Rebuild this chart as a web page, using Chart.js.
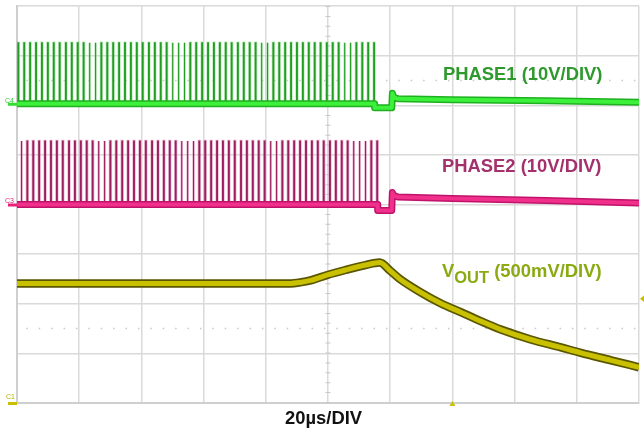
<!DOCTYPE html>
<html>
<head>
<meta charset="utf-8">
<script src="https://cdn.jsdelivr.net/npm/chart.js@4/dist/chart.umd.min.js"></script>
<style>
  html, body { margin: 0; padding: 0; background: #fff; }
  #wrap { position: relative; width: 644px; height: 429px; }
  .lbl { position: absolute; font-family: "Liberation Sans", Arial, sans-serif; font-weight: bold; font-size: 18.4px; white-space: nowrap; line-height: 1; }
  .ch { position: absolute; font-family: "Liberation Sans", Arial, sans-serif; font-size: 7px; line-height: 1; }
  .sub { font-size: 16.5px; position: relative; top: 6px; }
</style>
</head>
<body>
<div id="wrap">
  <canvas id="c" width="644" height="429"></canvas>
  <div class="lbl" style="left:443px; top:65px; color:#2e9a2e;">PHASE1 (10V/DIV)</div>
  <div class="lbl" style="left:442px; top:157px; color:#a3326c;">PHASE2 (10V/DIV)</div>
  <div class="lbl" style="left:442px; top:262px; color:#8aaa12;">V<span class="sub">OUT</span> (500mV/DIV)</div>
  <div class="lbl" style="left:285px; top:409px; color:#111;">20µs/DIV</div>
  <div class="ch" style="left:5px; top:97px; color:#33cc33;">C4</div>
  <div class="ch" style="left:5px; top:197px; color:#e0207a;">C3</div>
  <div class="ch" style="left:6px; top:393px; color:#b8b000;">C1</div>
</div>
<script>
// Time axis: 10 divisions x 20 µs; vertical axis in screen divisions (8 divisions)
const timeDivisions = [0, 20, 40, 60, 80, 100, 120, 140, 160, 180, 200];

// PHASE1 switch-node pulse start times (µs)
const phase1PulseTimes = [0.3, 2.2, 4.1, 6.0, 7.9, 9.8, 11.7, 13.6, 15.6, 17.5, 19.4, 21.3, 23.2, 25.1, 27.0, 28.9, 30.8, 32.7, 34.6, 36.5, 38.4, 40.3, 42.3, 44.2, 46.1, 48.0, 49.9, 51.8, 53.7, 55.6, 57.5, 59.4, 61.3, 63.2, 65.1, 67.0, 68.9, 70.9, 72.8, 74.7, 76.6, 78.5, 80.4, 82.3, 84.2, 86.1, 88.0, 89.9, 91.8, 93.7, 95.6, 97.5, 99.5, 101.4, 103.3, 105.2, 107.1, 109.0, 110.9, 112.8, 114.7];
// PHASE2 pulse start times (µs)
const phase2PulseTimes = [1.3, 3.2, 5.1, 7.0, 8.9, 10.8, 12.7, 14.6, 16.6, 18.5, 20.4, 22.3, 24.2, 26.1, 28.0, 29.9, 31.8, 33.7, 35.6, 37.5, 39.4, 41.3, 43.3, 45.2, 47.1, 49.0, 50.9, 52.8, 54.7, 56.6, 58.5, 60.4, 62.3, 64.2, 66.1, 68.0, 69.9, 71.9, 73.8, 75.7, 77.6, 79.5, 81.4, 83.3, 85.2, 87.1, 89.0, 90.9, 92.8, 94.7, 96.6, 98.5, 100.5, 102.4, 104.3, 106.2, 108.1, 110.0, 111.9, 113.8, 115.7];
const pulseWidth = 0.25;       // µs
const phase1Peak = 3.26;       // div
const phase2Peak = 1.28;       // div

// PHASE1 baseline trace (time µs, level div)
const phase1BaseT = [0, 114.9, 115.0, 120.5, 120.7, 121.2, 122.5, 140, 170, 200];
const phase1BaseY = [2.03, 2.03, 1.95, 1.95, 2.24, 2.16, 2.13, 2.11, 2.09, 2.06];
// PHASE2 baseline trace
const phase2BaseT = [0, 115.9, 116.0, 120.5, 120.7, 121.2, 122.5, 140, 170, 200];
const phase2BaseY = [0.00, 0.00, -0.12, -0.12, 0.24, 0.18, 0.15, 0.12, 0.08, 0.03];

// VOUT trace
const voutT = [0, 60, 88, 91, 94.4, 99.8, 105.6, 112.1, 116.6, 120.1, 123.3, 129.8, 136.2, 142.7, 149.1, 155.6, 165.2, 174.9, 181.3, 191.0, 200];
const voutY = [-1.59, -1.59, -1.59, -1.57, -1.53, -1.42, -1.32, -1.22, -1.17, -1.34, -1.51, -1.77, -1.99, -2.17, -2.35, -2.52, -2.72, -2.88, -2.99, -3.14, -3.28];

// Cursor reference levels (div)
const cursorLevels = [2.5, -2.5];

function pairs(xs, ys) { return xs.map((x, i) => ({ x: x, y: ys[i] })); }
function pulses(times, base, peak) {
  const pts = [];
  times.forEach(t => {
    pts.push({ x: t, y: base }, { x: t, y: peak }, { x: t + pulseWidth, y: peak }, { x: t + pulseWidth, y: base });
  });
  return pts;
}

const line = (data, color, width, extra) => Object.assign({
  data: data, borderColor: color, borderWidth: width, pointRadius: 0,
  fill: false, tension: 0, borderCapStyle: 'butt', borderJoinStyle: 'round'
}, extra || {});

// listed bottom-to-top
const layers = [
  ...cursorLevels.map(l => line([{ x: 3, y: l }, { x: 200, y: l }], '#c8c8c8', 1.5, { borderDash: [1.5, 10.9] })),
  line([{ x: 100, y: -4 }, { x: 100, y: 4 }], '#c8c8c8', 5, { borderDash: [1, 8.9] }),
  // PHASE1
  line(pulses(phase1PulseTimes, phase1BaseY[0], phase1Peak), 'rgba(110,215,110,0.45)', 2.6, { borderJoinStyle: 'miter' }),
  line(pulses(phase1PulseTimes, phase1BaseY[0], phase1Peak), '#239c23', 1.1, { borderJoinStyle: 'miter' }),
  line(pairs(phase1BaseT, phase1BaseY), '#1fb01f', 7),
  line(pairs(phase1BaseT, phase1BaseY), '#3cf03c', 4),
  // PHASE2
  line(pulses(phase2PulseTimes, phase2BaseY[0], phase2Peak), 'rgba(210,80,150,0.40)', 2.6, { borderJoinStyle: 'miter' }),
  line(pulses(phase2PulseTimes, phase2BaseY[0], phase2Peak), '#9a1f5c', 1.1, { borderJoinStyle: 'miter' }),
  line(pairs(phase2BaseT, phase2BaseY), '#c0126a', 7),
  line(pairs(phase2BaseT, phase2BaseY), '#f0308a', 4),
  // VOUT
  line(pairs(voutT, voutY), '#5b5700', 8.5, { cubicInterpolationMode: 'monotone' }),
  line(pairs(voutT, voutY), '#c9c000', 5, { cubicInterpolationMode: 'monotone' })
];
// Chart.js draws lower "order" on top
const datasets = layers.map((d, i) => Object.assign(d, { order: layers.length - i }));

const markerPlugin = {
  id: 'markers',
  afterDatasetsDraw(chart) {
    const ctx = chart.ctx, a = chart.chartArea;
    const ys = chart.scales.y, xs = chart.scales.x;
    ctx.save();
    ctx.fillStyle = '#c8c000';
    const ty = ys.getPixelForValue(-1.9);
    ctx.beginPath(); ctx.moveTo(a.right + 1, ty); ctx.lineTo(a.right + 6, ty - 4); ctx.lineTo(a.right + 6, ty + 4); ctx.closePath(); ctx.fill();
    const tx = xs.getPixelForValue(140);
    ctx.beginPath(); ctx.moveTo(tx, a.bottom - 2); ctx.lineTo(tx - 3, a.bottom + 3); ctx.lineTo(tx + 3, a.bottom + 3); ctx.closePath(); ctx.fill();
    ctx.fillStyle = '#c8c000'; ctx.fillRect(8, a.bottom - 1, 9, 3);
    ctx.fillStyle = '#33dd33'; ctx.fillRect(8, ys.getPixelForValue(2.03) - 1, 9, 3);
    ctx.fillStyle = '#e8207a'; ctx.fillRect(8, ys.getPixelForValue(0) - 1, 9, 3);
    ctx.restore();
  }
};

new Chart(document.getElementById('c'), {
  type: 'line',
  data: { datasets: datasets },
  plugins: [markerPlugin],
  options: {
    responsive: false,
    animation: false,
    events: [],
    layout: { padding: { left: 17, right: 5, top: 6, bottom: 26 } },
    plugins: { legend: { display: false }, tooltip: { enabled: false }, title: { display: false } },
    scales: {
      x: {
        type: 'linear', min: timeDivisions[0], max: timeDivisions[timeDivisions.length - 1],
        afterBuildTicks: s => { s.ticks = timeDivisions.map(v => ({ value: v })); },
        ticks: { display: false },
        grid: { color: '#dadada', lineWidth: 1.5, drawTicks: false },
        border: { display: true, color: '#cfcfcf', width: 2 }
      },
      y: {
        type: 'linear', min: -4, max: 4,
        ticks: { display: false, stepSize: 1 },
        grid: { color: '#dadada', lineWidth: 1.5, drawTicks: false },
        border: { display: true, color: '#cfcfcf', width: 2 }
      }
    }
  }
});
</script>
</body>
</html>
